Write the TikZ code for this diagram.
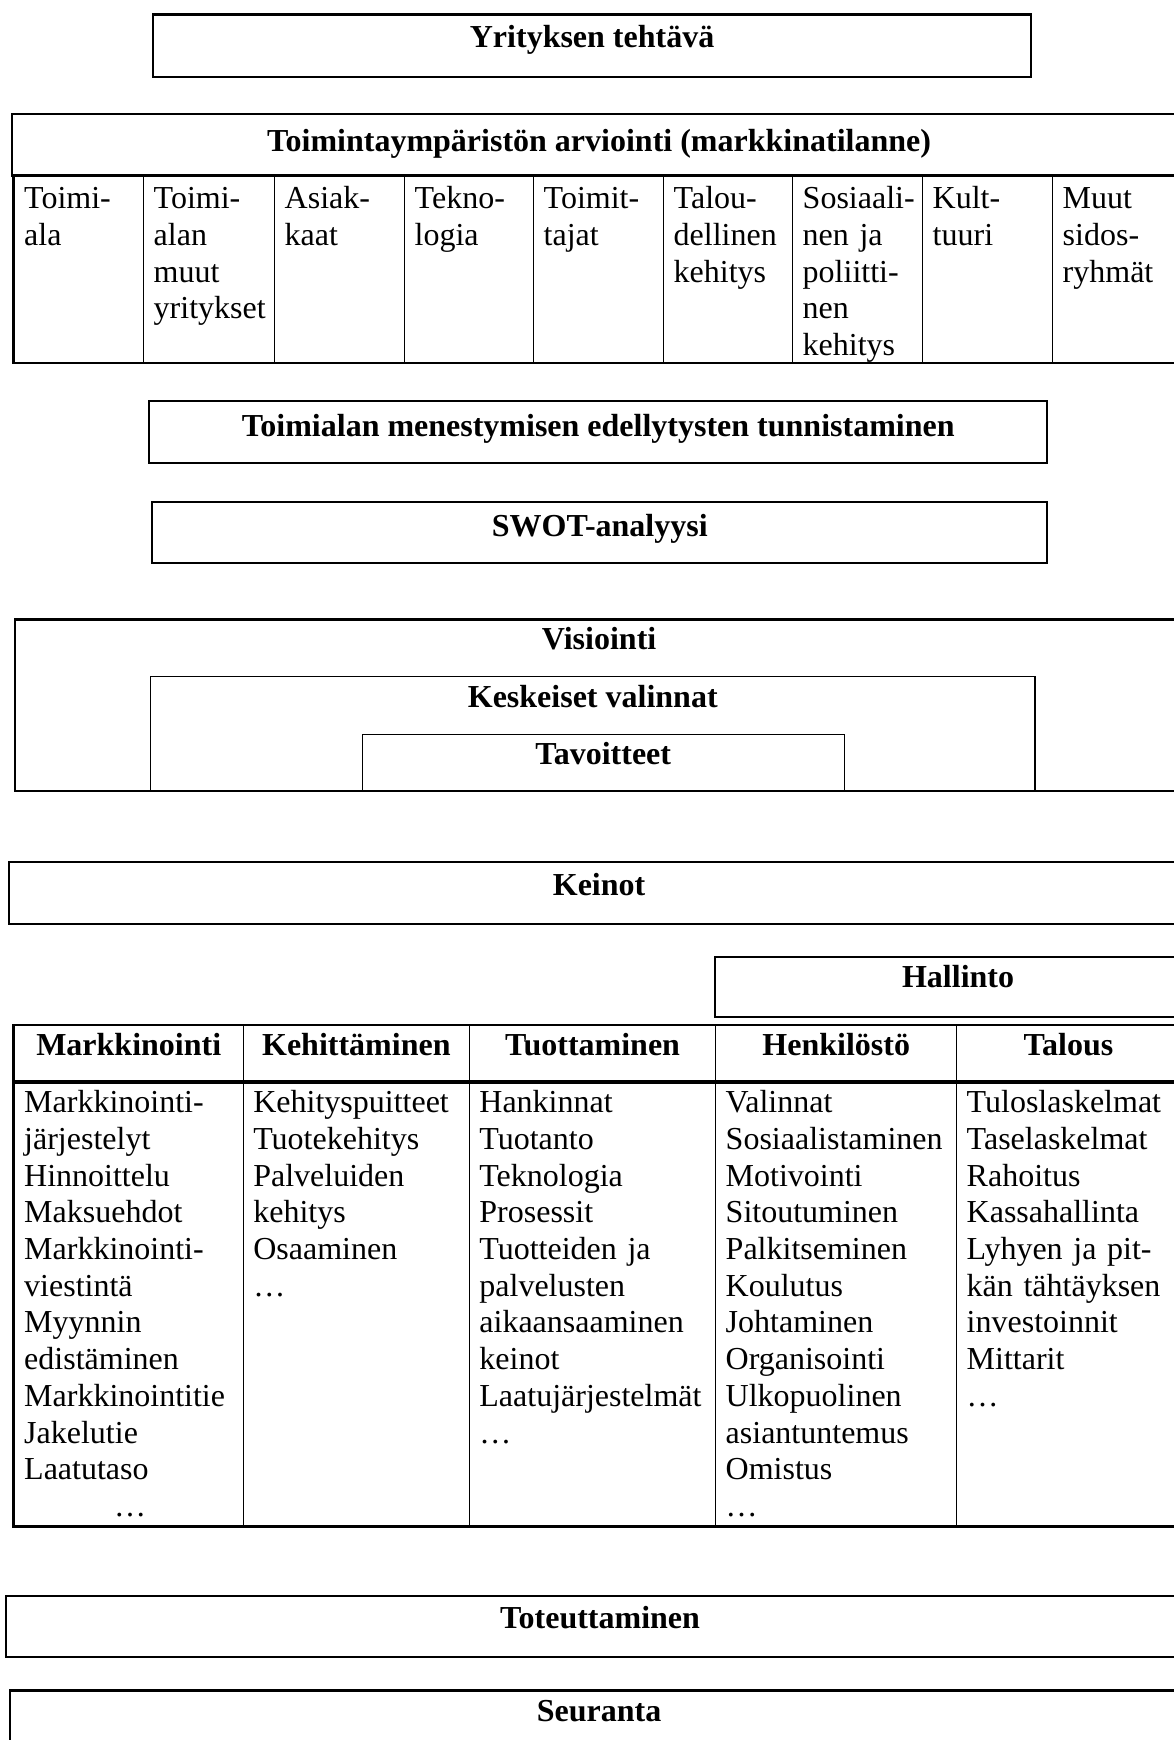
\documentclass[tikz,border=0pt]{standalone}
\usepackage{fontspec}
\setmainfont{Liberation Serif}

\begin{document}
\begin{tikzpicture}[
    x=1pt, y=-1pt,
    every node/.style = {font=\fontsize{32}{36.7}\selectfont},
    frame/.style = {draw, line width=2.2pt, inner sep=0pt, anchor=north west, font=\fontsize{32}{36.7}\selectfont\bfseries},
    inframe/.style = {frame, line width=1.4pt},
    cell/.style = {draw, line width=1.4pt, anchor=north west, inner xsep=10pt, inner ysep=0pt, align=left},
    envcell/.style = {cell, text height=33pt, text depth=153.5pt},
    meanhead/.style = {cell, align=center, font=\fontsize{32}{36.7}\selectfont\bfseries, text height=30pt, text depth=26pt},
    meancell/.style = {cell, text height=31pt, text depth=413pt},
    outline/.style = {draw, line width=2.2pt}
]
\useasboundingbox (0,0) rectangle (1174,1740);
\clip (0,0) rectangle (1174,1740);

% Mission
\node[frame, minimum width=878pt, text height=33.4pt, text depth=29.3pt] (mission) at (152,13.3) {Yrityksen tehtävä};

% Operating environment and its table
\node[frame, minimum width=1174pt, text height=37pt, text depth=25pt] (env) at (11,113) {Toimintaympäristön arviointi (markkinatilanne)};

\node[envcell, text width=109.5pt] (env1) at (13.5,175) {\mbox{Toimi-}\\ala};
\node[envcell, text width=111pt] (env2) at (143,175) {\mbox{Toimi-}\\alan\\muut\\yritykset};
\node[envcell, text width=110pt] (env3) at (274,175) {\mbox{Asiak-}\\kaat};
\node[envcell, text width=109pt] (env4) at (404,175) {\mbox{Tekno-}\\logia};
\node[envcell, text width=110pt] (env5) at (533,175) {\mbox{Toimit-}\\tajat};
\node[envcell, text width=109pt] (env6) at (663,175) {\mbox{Talou-}\\dellinen\\kehitys};
\node[envcell, text width=110pt] (env7) at (792,175) {\mbox{Sosiaali-}\\nen ja\\\mbox{poliitti-}\\nen\\kehitys};
\node[envcell, text width=110pt] (env8) at (922,175) {\mbox{Kult-}\\tuuri};
\node[envcell, text width=113pt] (env9) at (1052,175) {Muut\\\mbox{sidos-}\\ryhmät};
\draw[outline] (env1.north west) rectangle (env9.south east);

% Analysis
\node[frame, minimum width=898pt, text height=35pt, text depth=26.7pt] (success) at (148.2,400) {Toimialan menestymisen edellytysten tunnistaminen};
\node[frame, minimum width=895pt, text height=34.3pt, text depth=26.7pt] (swot) at (151.2,500.7) {SWOT-analyysi};

% Vision, choices, goals
\node[frame, minimum width=1169pt, text height=30pt, text depth=141.7pt] (vision) at (13.5,618.3) {Visiointi};
\node[inframe, minimum width=884.7pt, text height=31pt, text depth=83.3pt] (choices) at (149.7,675.7) {Keskeiset valinnat};
\node[inframe, minimum width=482pt, text height=29.3pt, text depth=26.7pt] (goals) at (361.5,734) {Tavoitteet};

% Means
\node[frame, minimum width=1180pt, text height=33pt, text depth=29pt] (means) at (8,861) {Keinot};
\node[frame, minimum width=487pt, text height=30.7pt, text depth=29.3pt] (admin) at (713.5,956) {Hallinto};

\node[meanhead, text width=209.1pt] (mh1) at (13.5,1025) {Markkinointi};
\node[meanhead, text width=206.1pt] (mh2) at (242.6,1025) {Kehittäminen};
\node[meanhead, text width=226.3pt] (mh3) at (468.7,1025) {Tuottaminen};
\node[meanhead, text width=221pt] (mh4) at (715,1025) {Henkilöstö};
\node[meanhead, text width=203.5pt] (mh5) at (956,1025) {Talous};

\node[meancell, text width=209.1pt] (mb1) at (13.5,1081) {\mbox{Markkinointi-}\\järjestelyt\\Hinnoittelu\\Maksuehdot\\\mbox{Markkinointi-}\\viestintä\\Myynnin\\edistäminen\\Markkinointitie\\Jakelutie\\Laatutaso\\\hspace*{90pt}…};
\node[meancell, text width=206.1pt] (mb2) at (242.6,1081) {Kehityspuitteet\\Tuotekehitys\\Palveluiden\\kehitys\\Osaaminen\\…};
\node[meancell, text width=226.3pt] (mb3) at (468.7,1081) {Hankinnat\\Tuotanto\\Teknologia\\Prosessit\\Tuotteiden ja\\palvelusten\\aikaansaaminen\\keinot\\Laatujärjestelmät\\…};
\node[meancell, text width=221pt] (mb4) at (715,1081) {Valinnat\\Sosiaalistaminen\\Motivointi\\Sitoutuminen\\Palkitseminen\\Koulutus\\Johtaminen\\Organisointi\\Ulkopuolinen\\asiantuntemus\\Omistus\\…};
\node[meancell, text width=203.5pt] (mb5) at (956,1081) {Tuloslaskelmat\\Taselaskelmat\\Rahoitus\\Kassahallinta\\\mbox{Lyhyen ja pit-}\\kän tähtäyksen\\investoinnit\\Mittarit\\…};
\draw[outline] (mh1.north west) rectangle (mh5.south east);
\draw[outline] (mb1.north west) rectangle (mb5.south east);

% Implementation and follow-up
\node[frame, minimum width=1188pt, text height=32.6pt, text depth=28.9pt] (implement) at (5,1594.7) {Toteuttaminen};
\node[frame, minimum width=1178pt, text height=31.4pt, text depth=68.6pt] (followup) at (9,1689.3) {Seuranta};

\end{tikzpicture}
\end{document}
